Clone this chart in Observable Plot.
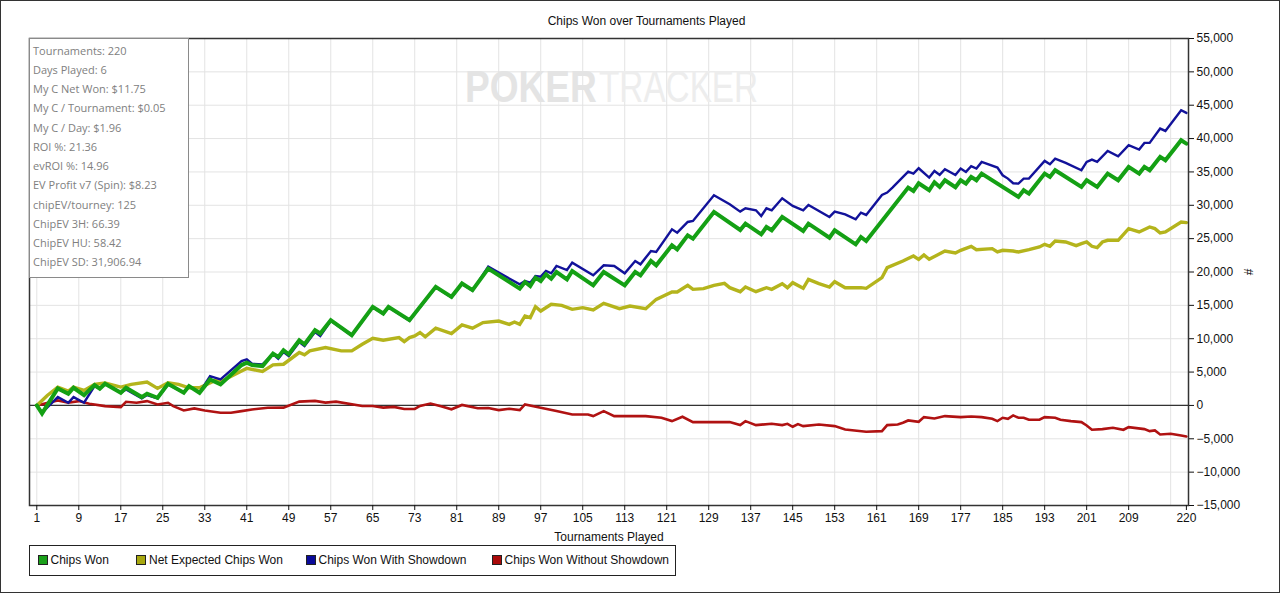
<!DOCTYPE html>
<html><head><meta charset="utf-8">
<script src="https://cdn.jsdelivr.net/npm/d3@7"></script>
<script src="https://cdn.jsdelivr.net/npm/@observablehq/plot@0.6"></script>
<style>
html,body{margin:0;padding:0;background:#fff;}
#wrap{position:relative;width:1280px;height:593px;overflow:hidden;background:#fff;font-family:"Liberation Sans",Arial,sans-serif;}
#chart{position:absolute;left:0;top:0;}
#title{position:absolute;left:0;top:14px;width:1293px;text-align:center;font-size:12px;line-height:14px;color:#111;}
#stats{position:absolute;left:29px;top:38px;width:160px;height:240px;border:1.5px solid #8a8a8a;background:#fff;box-sizing:border-box;padding:1.5px 0 0 3px;font-family:"Open Sans",sans-serif;font-size:11px;color:#808080;line-height:19.25px;white-space:nowrap;}
#legend{position:absolute;left:29px;top:545px;width:647px;height:31px;border:1.5px solid #222;box-sizing:border-box;background:#fff;}
.item{position:absolute;top:0;height:28px;line-height:28px;font-size:12px;color:#111;white-space:nowrap;}
.sw{display:inline-block;width:8px;height:8px;border:1px solid #222;margin-right:3px;vertical-align:middle;position:relative;top:-1px;}
#wm{position:absolute;left:460px;top:55px;overflow:visible;}
#border{position:absolute;left:0;top:0;width:1280px;height:593px;border:1px solid #333;box-sizing:border-box;pointer-events:none;}
</style>
</head><body>
<div id="wrap">
  <div id="chart"></div>
  <svg id="wm" width="330" height="62"><g transform="translate(5,47) scale(0.843,1)"><text x="0" y="0" font-family="Liberation Sans, Arial" font-weight="bold" font-size="44" fill="#e4e4e4">POKER</text></g><g transform="translate(139,47) scale(0.757,1)"><text x="0" y="0" font-family="Liberation Sans, Arial" font-size="44" fill="#ededed">TRACKER</text></g></svg>
  <div id="title"></div>
  <div id="stats"></div>
  <div id="legend"></div>
  <div id="border"></div>
</div>
<script>
const titleText = "Chips Won over Tournaments Played";
const xLabel = "Tournaments Played";
const yLabel = "#";

const statsLines = [
  "Tournaments: 220", "Days Played: 6", "My C Net Won: $11.75", "My C / Tournament: $0.05",
  "My C / Day: $1.96", "ROI %: 21.36", "evROI %: 14.96", "EV Profit v7 (Spin): $8.23",
  "chipEV/tourney: 125", "ChipEV 3H: 66.39", "ChipEV HU: 58.42", "ChipEV SD: 31,906.94"
];

const seriesNames = ["Chips Won", "Net Expected Chips Won", "Chips Won With Showdown", "Chips Won Without Showdown"];
const seriesColors = ["#14a014", "#b4b41c", "#12129a", "#b01212"];
const swatchColors = ["#1aa01a", "#a8a810", "#0a0a9a", "#aa0a0a"];

const xTicks = [1, 9, 17, 25, 33, 41, 49, 57, 65, 73, 81, 89, 97, 105, 113, 121, 129, 137, 145, 153, 161, 169, 177, 185, 193, 201, 209, 220];
const xGridTicks = [1, 9, 17, 25, 33, 41, 49, 57, 65, 73, 81, 89, 97, 105, 113, 121, 129, 137, 145, 153, 161, 169, 177, 185, 193, 201, 209, 217];
const yTicks = [-15000, -10000, -5000, 0, 5000, 10000, 15000, 20000, 25000, 30000, 35000, 40000, 45000, 50000, 55000];

// [tournament, chips]
const chipsWon = [[1,0],[2,-1200],[5,2550],[7,1750],[8,2650],[10,1550],[12,3050],[13,2500],[14,3250],[17,1900],[18,2650],[21,1250],[22,1750],[24,1150],[26,3250],[29,1900],[30,2900],[32,1900],[34,3900],[36,3150],[40,6050],[41,6400],[42,6050],[44,5900],[46,7775],[47,7275],[48,8275],[49,7675],[51,9775],[52,9175],[54,11275],[55,10775],[57,12775],[61,10525],[65,14775],[67,13775],[68,14775],[72,12775],[77,17775],[80,16275],[82,18275],[84,17275],[87,20500],[93,17500],[94,18500],[95,17900],[96,19150],[97,18650],[98,19650],[99,19000],[100,20000],[102,18900],[103,20150],[107,18000],[109,20000],[113,18000],[115,20000],[116,19500],[118,21650],[119,21000],[122,24000],[123,23400],[125,25500],[126,25000],[130,29000],[135,26300],[136,27250],[139,25650],[140,26750],[141,26250],[143,28250],[147,26150],[148,27250],[152,25150],[153,26250],[157,24150],[158,25250],[159,24650],[167,32650],[168,32150],[169,33300],[171,32250],[172,33450],[173,32750],[174,33750],[176,32700],[177,33750],[178,33250],[179,34250],[180,33750],[181,34750],[188,31250],[189,32250],[190,31750],[193,34750],[194,34250],[195,35250],[200,32750],[201,33750],[203,32750],[205,34750],[207,33750],[209,35750],[211,34750],[212,35750],[213,35250],[215,37250],[216,36750],[219,39750],[220,39250]];

const netExpected = [[1,0],[3,1500],[5,2750],[7,2150],[8,2750],[10,2250],[12,3150],[14,3350],[17,2750],[19,3150],[22,3500],[24,2550],[26,3400],[28,3150],[30,2650],[32,2650],[35,3750],[36,3550],[40,5150],[41,5550],[44,5100],[46,6075],[48,6175],[51,7925],[52,7575],[53,8175],[56,8675],[59,8175],[61,8175],[63,9175],[65,10075],[67,9775],[70,10175],[71,9575],[72,10175],[73,10425],[74,10925],[75,10275],[77,11575],[80,10775],[82,12075],[84,11575],[86,12425],[89,12650],[91,12150],[92,12500],[93,12150],[94,13400],[95,13150],[96,14800],[97,14150],[99,15150],[101,15000],[103,14400],[105,14650],[107,14300],[109,15300],[112,14500],[114,14900],[117,14500],[119,15900],[122,17000],[123,17000],[125,18000],[126,17400],[128,17500],[130,18000],[132,18300],[133,17650],[135,17050],[136,17750],[138,17050],[140,17650],[141,17400],[143,18250],[144,17650],[145,18400],[147,17550],[148,18900],[150,18250],[152,17750],[153,18550],[155,17650],[158,17650],[159,17550],[162,19150],[163,20650],[166,21650],[168,22400],[169,21900],[170,22550],[171,21900],[174,23150],[176,22850],[177,23250],[179,23850],[180,23350],[183,23500],[184,23000],[185,23250],[187,23150],[188,23000],[190,23350],[192,23750],[193,24150],[194,23850],[195,24650],[197,24500],[199,23950],[200,24250],[201,24500],[202,23850],[203,23650],[204,24500],[205,24750],[207,24750],[209,26500],[211,26000],[213,26750],[214,26500],[215,25850],[216,26000],[219,27500],[220,27400]];

const withShowdown = [[1,0],[2,-1100],[5,1250],[7,400],[8,1250],[10,400],[12,2900],[13,2500],[14,3250],[17,1900],[18,2400],[21,1050],[22,1550],[24,1050],[26,3150],[29,1900],[30,2900],[32,1900],[34,4400],[36,3900],[40,6650],[41,6900],[42,6250],[44,6150],[46,7700],[47,7000],[48,8000],[49,7400],[51,9500],[52,8900],[54,11000],[55,10400],[57,12700],[61,10450],[65,14700],[67,13700],[68,14700],[72,12700],[77,17700],[80,16200],[82,18200],[84,17200],[87,20800],[93,18150],[94,18650],[95,18400],[96,19400],[97,19300],[98,20150],[99,19800],[100,20900],[102,20300],[103,21400],[107,19500],[109,21000],[111,20900],[113,19800],[115,21650],[116,21150],[118,23150],[119,23000],[122,26400],[123,25900],[125,27500],[126,27650],[130,31500],[133,30150],[135,29050],[136,29550],[138,29250],[139,28400],[140,29550],[141,29250],[143,31050],[145,29900],[147,29250],[148,30050],[152,28250],[153,29050],[155,28650],[157,27900],[158,28900],[159,28550],[162,31550],[163,31900],[164,32650],[167,35050],[168,34750],[169,35550],[171,34150],[172,35150],[173,34550],[174,35400],[176,34550],[177,35500],[178,35000],[179,35850],[180,35500],[181,36500],[184,35650],[185,34500],[186,34000],[187,33300],[188,33250],[189,34000],[190,34000],[193,36650],[194,36150],[195,37000],[197,36350],[200,35250],[201,36500],[202,36850],[203,36500],[205,38150],[207,37350],[209,39000],[211,38350],[212,39350],[213,39350],[215,41500],[216,41150],[219,44250],[220,43850]];

const withoutShowdown = [[1,0],[5,750],[7,400],[9,650],[11,250],[14,-100],[17,-250],[18,550],[20,400],[22,650],[24,150],[26,400],[27,-100],[29,-750],[31,-450],[33,-750],[36,-1100],[38,-1100],[40,-850],[42,-600],[45,-350],[48,-325],[51,575],[54,675],[56,425],[58,575],[63,-75],[65,-75],[67,-325],[69,-225],[71,-525],[73,-525],[74,-75],[76,275],[78,-125],[80,-575],[82,75],[85,-425],[87,-400],[89,-700],[91,-500],[93,-700],[94,150],[97,-350],[100,-850],[103,-1350],[106,-1350],[107,-1600],[109,-850],[111,-1600],[114,-1600],[117,-1600],[120,-1850],[122,-2350],[124,-1700],[126,-2500],[133,-2500],[135,-2950],[136,-2350],[138,-2950],[141,-2750],[143,-2950],[144,-2750],[145,-3200],[146,-2800],[147,-3100],[150,-2850],[153,-3100],[155,-3600],[159,-3950],[162,-3850],[163,-2950],[165,-2850],[166,-2600],[167,-2250],[169,-2450],[170,-1750],[172,-1950],[174,-1600],[177,-1750],[179,-1650],[181,-1750],[183,-2000],[184,-2350],[185,-1850],[186,-2000],[187,-1500],[188,-1850],[189,-1850],[190,-2150],[192,-2150],[193,-1750],[195,-1850],[196,-2150],[198,-2350],[200,-2500],[201,-3000],[202,-3650],[204,-3550],[206,-3350],[208,-3650],[209,-3250],[212,-3550],[213,-3850],[214,-3750],[215,-4350],[217,-4250],[219,-4500],[220,-4650]];

document.getElementById("title").textContent = titleText;
const stats = document.getElementById("stats");
statsLines.forEach(s => { const d = document.createElement("div"); d.textContent = s; stats.appendChild(d); });

const legendLefts = [7.5, 106, 275.5, 461.5];
const legend = document.getElementById("legend");
seriesNames.forEach((name, i) => {
  const it = document.createElement("div");
  it.className = "item";
  it.style.left = legendLefts[i] + "px";
  const sw = document.createElement("span");
  sw.className = "sw";
  sw.style.background = swatchColors[i];
  it.appendChild(sw);
  it.appendChild(document.createTextNode(name));
  legend.appendChild(it);
});

const lineOpts = (color, w) => ({x: d => d[0], y: d => d[1], stroke: color, strokeWidth: w, strokeLinejoin: "miter", strokeMiterlimit: 3});

const chart = Plot.plot({
  width: 1280, height: 593,
  marginLeft: 29, marginRight: 92, marginTop: 38, marginBottom: 88,
  style: {fontFamily: "Liberation Sans, Arial, sans-serif", fontSize: "12px", color: "#111", background: "transparent", overflow: "visible"},
  x: {domain: [-0.39, 220.4]},
  y: {domain: [-15000, 55000]},
  marks: [
    Plot.gridX(xGridTicks, {stroke: "#e3e3e3", strokeOpacity: 1}),
    Plot.gridY(yTicks, {stroke: "#e3e3e3", strokeOpacity: 1}),
    Plot.ruleY([0], {stroke: "#333", strokeWidth: 1.2}),
    Plot.line(withoutShowdown, lineOpts(seriesColors[3], 2.6)),
    Plot.line(netExpected, lineOpts(seriesColors[1], 3.4)),
    Plot.line(withShowdown, lineOpts(seriesColors[2], 2.4)),
    Plot.line(chipsWon, lineOpts(seriesColors[0], 4)),
    Plot.frame({stroke: "#333", strokeWidth: 1.5}),
    Plot.axisX(xTicks, {tickSize: 5, tickPadding: 3, tickFormat: d => String(d), label: xLabel, labelAnchor: "center", labelArrow: false, labelOffset: 35}),
    Plot.axisY(yTicks, {anchor: "right", tickSize: 5, tickPadding: 3, tickFormat: d3.format(","), label: yLabel, labelAnchor: "center", labelArrow: false, labelOffset: 64})
  ]
});
document.getElementById("chart").appendChild(chart);
</script>
</body></html>
